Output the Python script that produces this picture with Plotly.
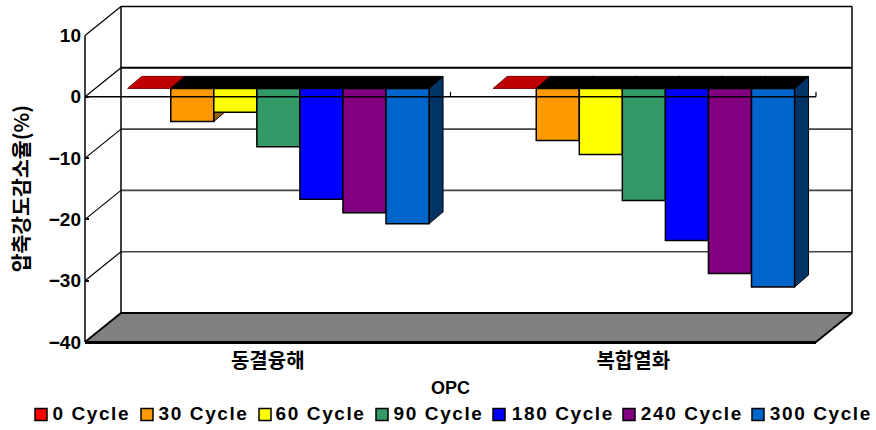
import plotly.graph_objects as go

categories = ["동결융해", "복합열화"]
series_names = ["0 Cycle", "30 Cycle", "60 Cycle", "90 Cycle", "180 Cycle", "240 Cycle", "300 Cycle"]
freeze_thaw = [0, -5.4, -3.9, -9.5, -18.1, -20.3, -22.1]
combined = [0, -8.5, -10.8, -18.3, -24.8, -30.2, -32.4]
y_ticks = [10, 0, -10, -20, -30, -40]

front_colors = ["#FF0000", "#FF9900", "#FFFF00", "#339966", "#0000FF", "#800080", "#0066CC"]
top_colors = ["#C00000", "#000000", "#000000", "#000000", "#000000", "#000000", "#000000"]
side_colors = ["#990000", "#996000", "#999900", "#1F5C3D", "#000099", "#4D004D", "#003366"]

W, H = 876, 430
# pixel frame of the front plane of the chart
L, R, T, B = 85, 816, 35.5, 342
# pixel frame of the whole plot area (front plane plus depth, with a little room)
PL, PR, PT, PB = 80, 858, 2, 346
PX_X = (R - L) / 2      # pixels per category
PX_Y = (B - T) / 50     # pixels per value unit
WALL_DX, WALL_DY = 36 / PX_X, 29 / PX_Y
BAR_DX, BAR_DY = 10 / PX_X, 8.4 / PX_Y
BACK_DX, BACK_DY = 14 / PX_X, 12 / PX_Y
GAP, BAR_W = 32.7 / PX_X, 43.05 / PX_X


def paper_x(px):
    return (px - PL) / (PR - PL)


def paper_y(py):
    return (PB - py) / (PB - PT)


fig = go.Figure()
# keeps the visible front-plane axes alive
fig.add_trace(go.Scatter(x=[0, 2], y=[-40, 10], mode="none", showlegend=False, hoverinfo="skip",
                         xaxis="x", yaxis="y"))


def poly(xs, ys, fill=None, line="#000000", width=1.5, close=True):
    if close:
        xs, ys = xs + [xs[0]], ys + [ys[0]]
    fig.add_trace(go.Scatter(
        x=xs, y=ys, mode="lines", showlegend=False, hoverinfo="skip",
        xaxis="x2", yaxis="y2",
        fill="toself" if fill else "none", fillcolor=fill,
        line=dict(color=line, width=width),
    ))


# walls and gridlines
for v in y_ticks[1:-1]:
    heavy = v == 0
    poly([WALL_DX, 2 + WALL_DX], [v + WALL_DY] * 2, line="#000000" if heavy else "#444444",
         width=2 if heavy else 1.6, close=False)
for v in y_ticks[:-1]:
    poly([0, WALL_DX], [v, v + WALL_DY], width=1.2, close=False)
poly([WALL_DX, 2 + WALL_DX], [10 + WALL_DY] * 2, width=1.5, close=False)
poly([0, 0], [-40, 10], width=1.5, close=False)
poly([WALL_DX, WALL_DX], [-40 + WALL_DY, 10 + WALL_DY], width=1.5, close=False)
poly([2 + WALL_DX, 2 + WALL_DX], [-40 + WALL_DY, 10 + WALL_DY], width=1.5, close=False)
poly([0, 2, 2 + WALL_DX, WALL_DX], [-40, -40, -40 + WALL_DY, -40 + WALL_DY], fill="#808080", width=1.8)

# bars, left to right so that each one hides the side of the last
values_by_cat = [freeze_thaw, combined]
for s in range(len(series_names)):
    for c, vals in enumerate(values_by_cat):
        x0 = c + GAP + BAR_DX + s * BAR_W
        x1 = x0 + BAR_W
        yt = BAR_DY
        yb = vals[s] + BAR_DY
        if vals[s] != 0:
            poly([x1, x1 + BACK_DX, x1 + BACK_DX, x1], [yt, yt + BACK_DY, yb + BACK_DY, yb],
                 fill=side_colors[s], width=1)
        poly([x0, x1, x1 + BACK_DX, x0 + BACK_DX], [yt, yt, yt + BACK_DY, yt + BACK_DY],
             fill=top_colors[s], line="#000000" if s else "#7A0000", width=1)
        if vals[s] != 0:
            poly([x0, x1, x1, x0], [yt, yt, yb, yb], fill=front_colors[s], width=1.5)

# zero line of the front plane, over the bars
poly([0, 2], [0, 0], width=1.5, close=False)
for xt in (1, 2):
    poly([xt, xt], [0, 5 / PX_Y], width=1.2, close=False)

font = dict(family="Liberation Sans, Arial, sans-serif", size=19, color="#000000", weight=700)

annotations, shapes = [], []
swatch_lefts = [35, 141, 259, 376, 493, 623, 752]
label_centers = [91.5, 203, 320.5, 438, 562.5, 692, 821]
for name, color, sx, cx in zip(series_names, front_colors, swatch_lefts, label_centers):
    shapes.append(dict(type="rect", xref="paper", yref="paper", layer="above",
                       x0=paper_x(sx), x1=paper_x(sx + 12),
                       y0=paper_y(420.5), y1=paper_y(408.5),
                       fillcolor=color, line=dict(color="#000000", width=1.5)))
    annotations.append(dict(text=name, xref="paper", yref="paper", showarrow=False,
                            x=paper_x(cx), y=paper_y(414),
                            xanchor="center", yanchor="middle", font=font))

fig.update_layout(
    width=W, height=H, autosize=False,
    margin=dict(l=PL, r=W - PR, t=PT, b=H - PB, pad=0),
    paper_bgcolor="#FFFFFF", plot_bgcolor="rgba(0,0,0,0)",
    showlegend=False, annotations=annotations, shapes=shapes,
    font=font,
    xaxis=dict(
        domain=[paper_x(L), paper_x(R)], anchor="y",
        range=[0, 2], tickmode="array", tickvals=[0.5, 1.5], ticktext=categories,
        ticks="", showgrid=False, zeroline=False, showline=True, linecolor="#000000", linewidth=2,
        tickfont=dict(family="Noto Sans CJK KR", size=20, color="#000000", weight=700),
        minor=dict(tickmode="array", tickvals=[1, 2], ticks="inside", ticklen=5, tickwidth=1.2,
                   tickcolor="#000000"),
        title=dict(text="OPC", font=dict(family="Liberation Sans", size=18, color="#000000", weight=700),
                   standoff=8),
        automargin=False,
    ),
    yaxis=dict(
        domain=[paper_y(B), paper_y(T)], anchor="x",
        range=[-40, 10], tickmode="array", tickvals=y_ticks,
        ticks="inside", ticklen=4, tickwidth=1.5, tickcolor="#000000",
        ticklabelstandoff=3,
        showgrid=False, zeroline=False, showline=False,
        title=dict(text="압축강도감소율(%)",
                   font=dict(family="Noto Sans CJK KR", size=20.5, color="#000000", weight=700),
                   standoff=13),
        automargin=False,
    ),
    xaxis2=dict(domain=[0, 1], anchor="y2", visible=False,
                range=[(PL - L) / PX_X, (PR - L) / PX_X]),
    yaxis2=dict(domain=[0, 1], anchor="x2", visible=False,
                range=[(B - PB) / PX_Y - 40, (B - PT) / PX_Y - 40]),
)

post = """
document.body.style.margin = '0';
document.querySelectorAll('.annotation-text').forEach(function (t) { t.style.letterSpacing = '1.6px'; });
"""
fig.write_html("out.html", post_script=post, config={"displayModeBar": False})
